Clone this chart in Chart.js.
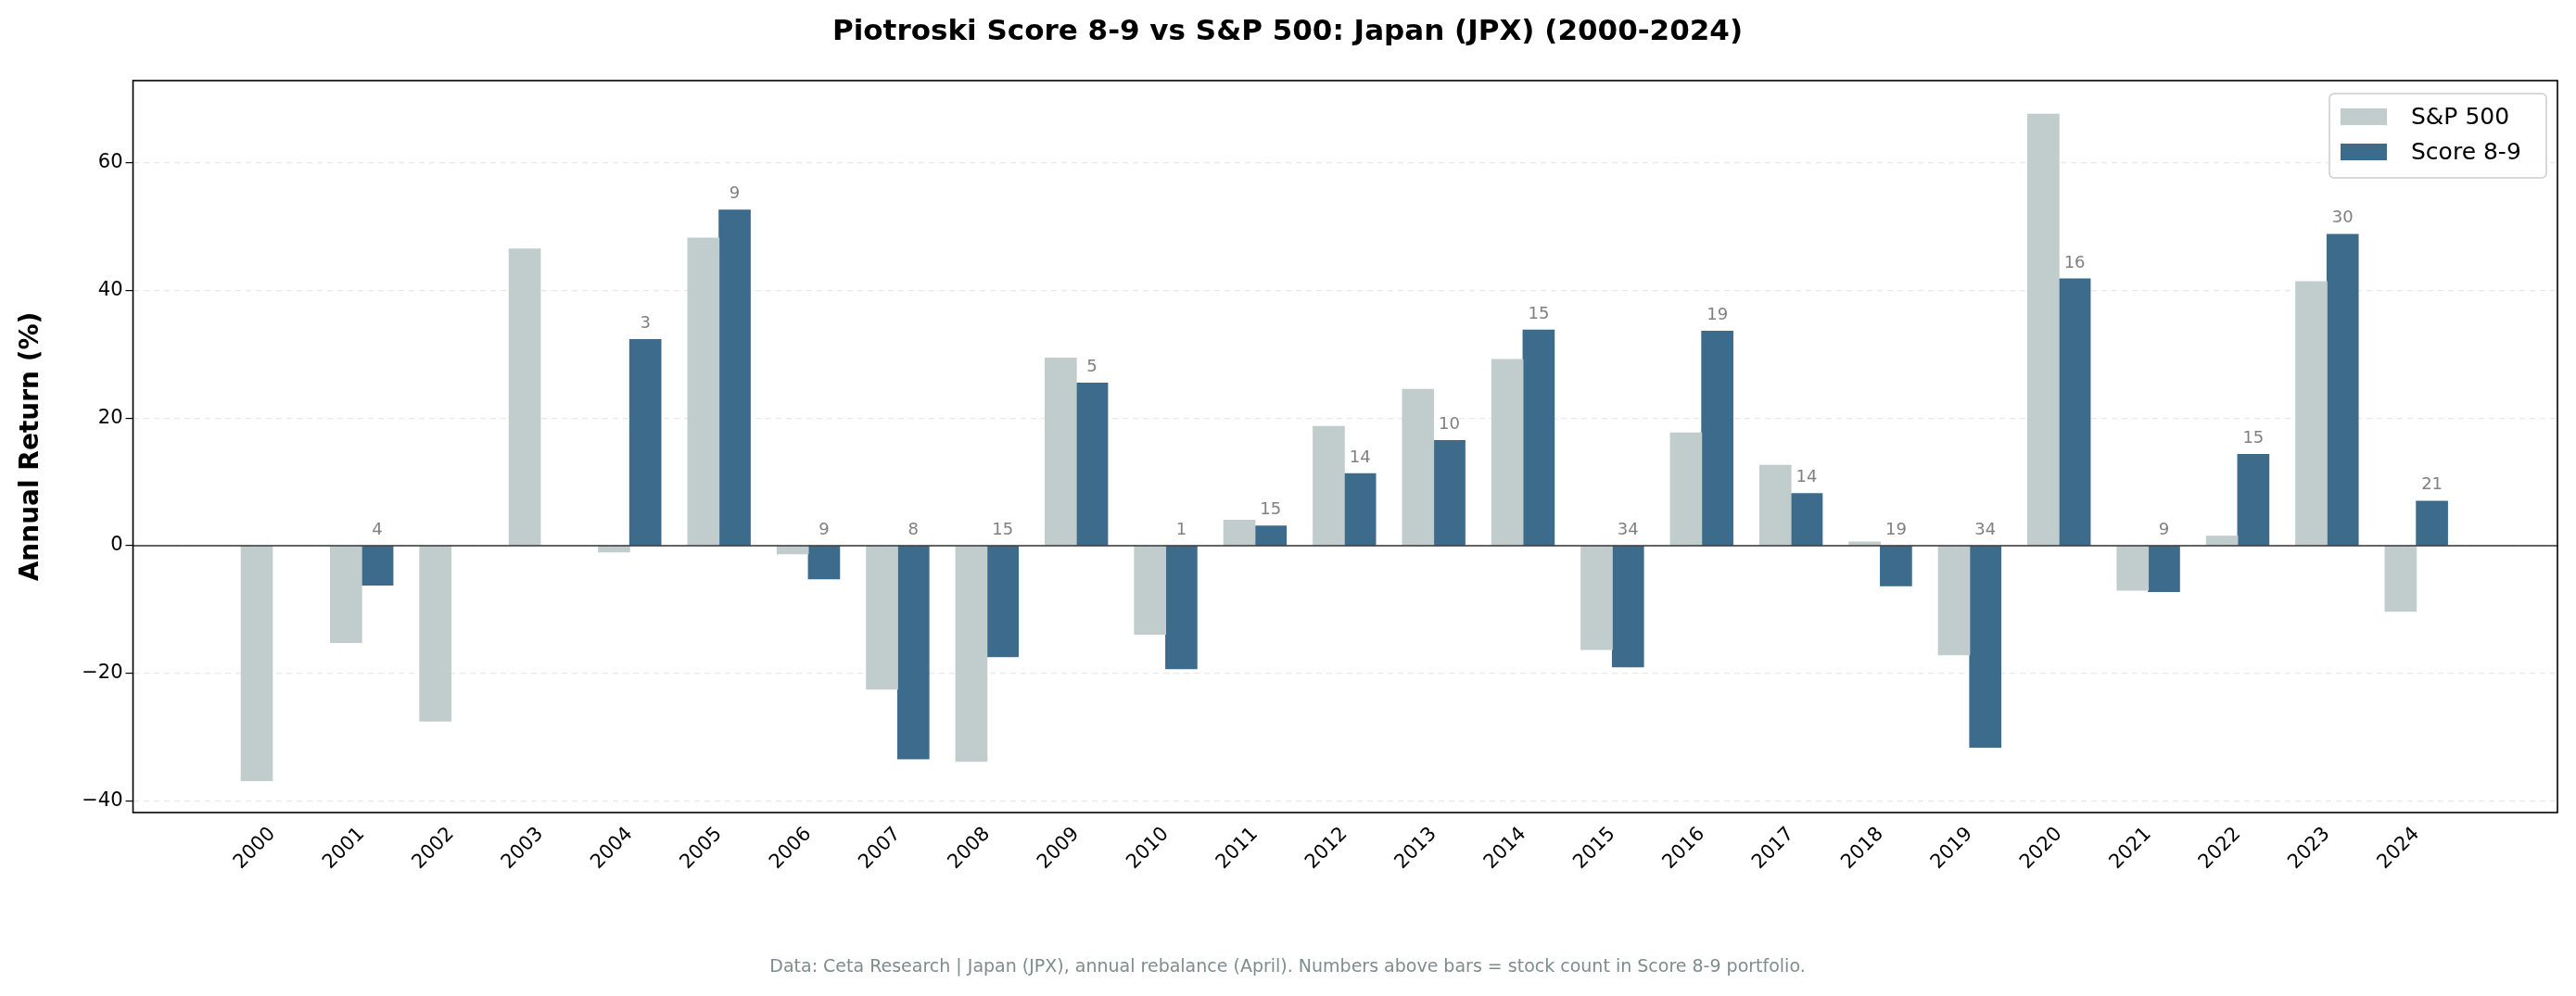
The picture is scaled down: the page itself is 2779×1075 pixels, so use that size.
<!DOCTYPE html>
<html><head><meta charset="utf-8">
<script src="https://cdn.jsdelivr.net/npm/chart.js@4"></script>
<style>html,body{margin:0;padding:0;background:#fff}#c{display:block}</style>
</head><body>
<div style="width:2779px;height:1075px"><canvas id="c" width="2779" height="1075"></canvas></div>
<script>
const years = ['2000','2001','2002','2003','2004','2005','2006','2007','2008','2009','2010','2011','2012','2013','2014','2015','2016','2017','2018','2019','2020','2021','2022','2023','2024'];
const sp500 = [-36.8,-15.2,-27.5,46.5,-1.0,48.2,-1.3,-22.5,-33.8,29.4,-13.9,4.0,18.7,24.5,29.2,-16.3,17.7,12.6,0.6,-17.1,67.6,-7.0,1.5,41.4,-10.3];
const score89 = [null,-6.2,null,null,32.3,52.6,-5.2,-33.4,-17.4,25.5,-19.3,3.1,11.3,16.5,33.8,-19.0,33.6,8.2,-6.3,-31.6,41.8,-7.2,14.3,48.8,7.0];
const counts = [null,4,null,null,3,9,9,8,15,5,1,15,14,10,15,34,19,14,19,34,16,9,15,30,21];

const OFF = 0.175;
const FONT = '"DejaVu Sans", sans-serif';
const spData = sp500.map((v,i)=>({x:i-OFF,y:v}));
const scData = score89.map((v,i)=>v===null?null:({x:i+OFF,y:v})).filter(d=>d);

const deco = {
  id:'deco',
  afterDraw(chart){
    const ctx = chart.ctx, a = chart.chartArea, y = chart.scales.y, x = chart.scales.x;
    ctx.save();
    // zero line
    ctx.strokeStyle='#333'; ctx.lineWidth=1.5;
    ctx.beginPath(); ctx.moveTo(a.left,y.getPixelForValue(0)); ctx.lineTo(a.right,y.getPixelForValue(0)); ctx.stroke();
    // border
    ctx.strokeStyle='#000'; ctx.lineWidth=1.6;
    ctx.strokeRect(a.left,a.top,a.right-a.left,a.bottom-a.top);
    // count labels
    ctx.fillStyle='#808080'; ctx.font='18px '+FONT; ctx.textAlign='center'; ctx.textBaseline='bottom';
    score89.forEach((v,i)=>{
      if(v===null||counts[i]===null) return;
      ctx.fillText(String(counts[i]), x.getPixelForValue(i+OFF), y.getPixelForValue(Math.max(v,0))-8);
    });
    // title
    ctx.fillStyle='#000'; ctx.font='bold 31px '+FONT; ctx.textBaseline='middle';
    ctx.fillText('Piotroski Score 8-9 vs S&P 500: Japan (JPX) (2000-2024)', 1389, 35);
    // y label
    ctx.save(); ctx.translate(34,(a.top+a.bottom)/2); ctx.rotate(-Math.PI/2);
    ctx.font='bold 28px '+FONT; ctx.fillText('Annual Return (%)',0,0); ctx.restore();
    // footer
    ctx.fillStyle='#7f8c8d'; ctx.font='19px '+FONT;
    ctx.fillText('Data: Ceta Research | Japan (JPX), annual rebalance (April). Numbers above bars = stock count in Score 8-9 portfolio.', 1389, 1044);
    // legend
    const lx=2513, ly=101, lw=234, lh=91;
    ctx.fillStyle='rgba(255,255,255,0.85)'; ctx.strokeStyle='#ccc'; ctx.lineWidth=1.5;
    ctx.beginPath(); ctx.roundRect(lx,ly,lw,lh,5); ctx.fill(); ctx.stroke();
    const items=[['S&P 500','#c1cccc'],['Score 8-9','#3d6b8c']];
    ctx.font='25px '+FONT; ctx.textAlign='left';
    items.forEach((it,k)=>{
      const yy=ly+25+k*38;
      ctx.fillStyle=it[1]; ctx.fillRect(lx+12,yy-9,50,18);
      ctx.fillStyle='#000'; ctx.fillText(it[0],lx+88,yy+1);
    });
    ctx.restore();
  }
};

new Chart(document.getElementById('c'),{
  type:'bar',
  data:{datasets:[
    {label:'S&P 500',data:spData,backgroundColor:'#c1cccc',barThickness:34,grouped:false},
    {label:'Score 8-9',data:scData,backgroundColor:'#3d6b8c',barThickness:34,grouped:false}
  ]},
  options:{
    responsive:false,animation:false,devicePixelRatio:1,
    layout:{padding:{top:87,right:20,left:0,bottom:0}},
    plugins:{legend:{display:false},title:{display:false},tooltip:{enabled:false}},
    scales:{
      x:{type:'linear',min:-1.56,max:25.58,offset:false,
        afterFit(s){s.height=1075-877-87+87-0;s.height=198;},
        afterBuildTicks(s){s.ticks=years.map((y,i)=>({value:i}));},
        ticks:{autoSkip:false,minRotation:45,maxRotation:45,color:'#000',font:{size:21,family:FONT},callback:(v)=>years[v]},
        grid:{display:false,drawTicks:true,tickLength:8,color:'#000'},
        border:{display:false}},
      y:{min:-41.8,max:72.85,
        afterFit(s){s.width=143.5;},
        afterBuildTicks(s){s.ticks=[-40,-20,0,20,40,60].map(v=>({value:v}));},
        ticks:{color:'#000',font:{size:21,family:FONT},callback:v=>v<0?'\u2212'+Math.abs(v):v},
        grid:{color:'rgba(0,0,0,0.09)',tickColor:'#000',tickLength:8,lineWidth:1.2},
        border:{display:false,dash:[6,5]}}
    }
  },
  plugins:[deco]
});
</script>
</body></html>
